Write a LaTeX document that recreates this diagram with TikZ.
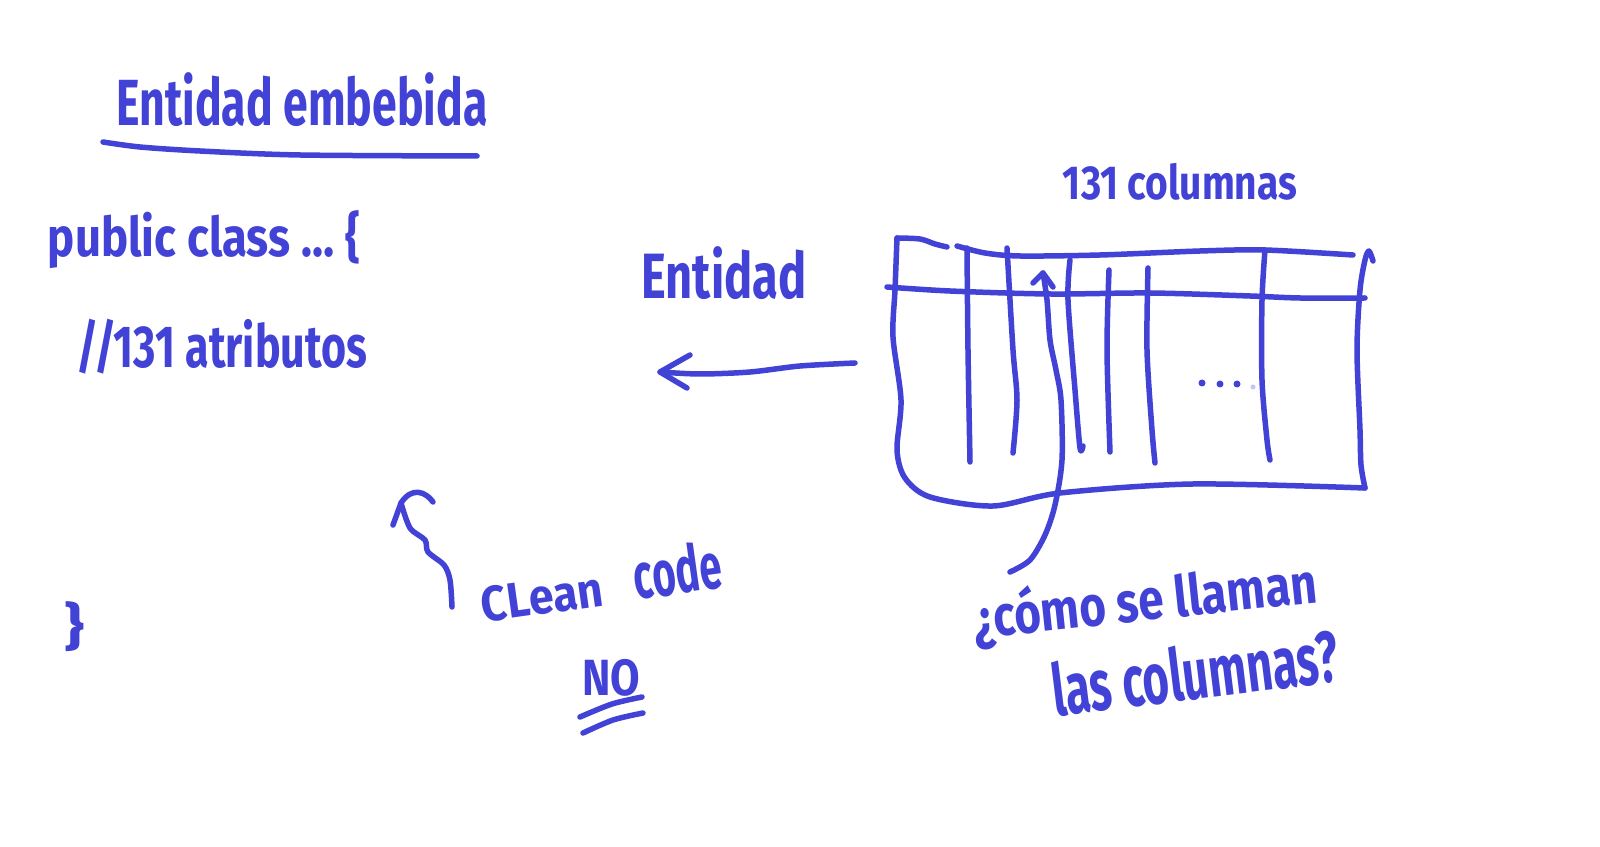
\documentclass[tikz,border=0pt]{standalone}
\usepackage{fontspec}
\setmainfont{Fira Sans}
\usepackage{graphicx}
\newlength\pxu
\setlength\pxu{0.02cm}
\newcommand\fitbox[3]{\resizebox*{#1\pxu}{#2\pxu}{\bfseries #3}}
\definecolor{ink}{RGB}{66,66,214}
\begin{document}
\begin{tikzpicture}[x=0.02cm,y=-0.02cm,
  stroke/.style={draw=ink,line width=0.11cm,line cap=round,line join=round},
  txt/.style={text=ink,inner sep=0pt,anchor=center}]
\useasboundingbox[fill=white] (0,0) rectangle (1600,847);

% ---- left: code sketch
\node[txt] (title) at (302,100) {\fitbox{371}{54}{Entidad embebida}};
\draw[stroke] plot[smooth] coordinates {(103,142) (140,147) (200,151) (300,155) (477,156)};
\node[txt] (pub) at (204,240) {\fitbox{312}{58}{public class \dots\ \{}};
\node[txt] (attr) at (222,347) {\fitbox{290}{55}{//131 atributos}};
\node[txt] (close) at (75,627) {\fitbox{20}{50}{\}}};

% ---- clean code
\coordinate (ccS) at (452,607);
\coordinate (ccT) at (401,503);
\draw[stroke] plot[smooth] coordinates {(ccS) (450,580) (444,565) (428,552) (425,540) (410,528) (ccT)};
\draw[stroke] (393,525) -- (ccT) .. controls (412,486) and (426,492) .. (433,502);
\node[txt,rotate=8] (clean) at (542,597) {\fitbox{122}{36}{CLean}};
\node[txt,rotate=8] (code) at (677,570) {\fitbox{88}{50}{code}};
\node[txt] (no) at (611,678) {\fitbox{58}{37}{NO}};
\draw[stroke] plot[smooth] coordinates {(580,717) (612,704) (642,697)};
\draw[stroke] plot[smooth] coordinates {(583,733) (613,720) (643,713)};

% ---- Entidad + arrow
\node[txt] (ent) at (724,273) {\fitbox{165}{53}{Entidad}};
\coordinate (aS) at (855,363);
\coordinate (aT) at (660,372);
\draw[stroke] plot[smooth] coordinates {(aS) (800,366) (750,372) (700,374) (aT)};
\draw[stroke] (690,355) -- (aT) -- (687,388);

% ---- table
\node[txt] (cols) at (1180,182) {\fitbox{234}{37}{131 columnas}};
\draw[stroke] plot[smooth] coordinates {(897,238) (895,290) (893,337) (901,400) (897,450) (905,478) (930,497) (993,506) (1060,493) (1193,484) (1365,488)};
\draw[stroke] plot[smooth] coordinates {(1365,488) (1361,465) (1360,430) (1357,350) (1360,290) (1365,260) (1369,251) (1373,261)};
\draw[stroke] plot[smooth] coordinates {(897,238) (920,239) (935,244) (947,247)};
\draw[stroke] plot[smooth] coordinates {(957,246) (985,253) (1020,256) (1100,255) (1200,251) (1265,250) (1353,255)};
\draw[stroke] plot[smooth] coordinates {(887,287) (950,291) (1050,294) (1150,293) (1250,296) (1300,298) (1365,298)};
% columns
\draw[stroke] plot[smooth] coordinates {(967,248) (968,350) (970,462)};
\draw[stroke] plot[smooth] coordinates {(1007,248) (1013,350) (1017,400) (1013,453)};
\draw[stroke] plot[smooth] coordinates {(1070,260) (1068,300) (1075,390) (1080,448) (1083,446)};
\draw[stroke] plot[smooth] coordinates {(1109,270) (1107,350) (1110,452)};
\draw[stroke] plot[smooth] coordinates {(1148,268) (1147,350) (1152,430) (1155,463)};
\draw[stroke] plot[smooth] coordinates {(1265,250) (1262,300) (1262,380) (1267,440) (1270,460)};
% dots
\fill[ink] (1202,383) circle (3.5) (1220,384) circle (3.5) (1237,384) circle (3.5);
\fill[ink,opacity=0.3] (1253,387) circle (2.5);

% ---- question arrow
\coordinate (qS) at (1010,572);
\coordinate (qT) at (1043,273);
\draw[stroke] plot[smooth] coordinates {(qS) (1030,560) (1045,535) (1055,505) (1062,460) (1061,400) (1056,370) (1050,340) (1047,300) (qT)};
\draw[stroke] (1033,283) -- (qT) -- (1053,287);
\node[txt,rotate=6] (q1) at (1145,603) {\fitbox{345}{60}{¿cómo se llaman}};
\node[txt,rotate=7] (q2) at (1195,672) {\fitbox{288}{56}{las columnas?}};
\end{tikzpicture}
\end{document}
